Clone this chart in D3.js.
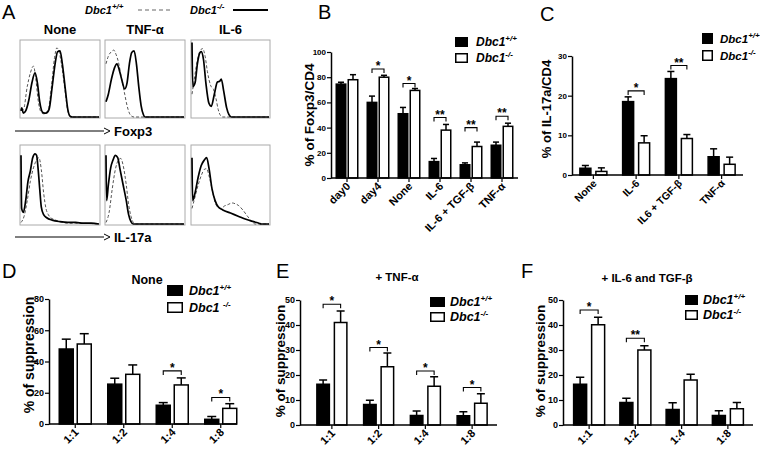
<!DOCTYPE html>
<html><head><meta charset="utf-8">
<script src="https://cdn.jsdelivr.net/npm/d3@7"></script>
<style>body{margin:0;background:#fff}svg{display:block}text{font-family:"Liberation Sans",Arial,sans-serif}</style>
</head><body><svg id="c" width="760" height="452"></svg>
<script>
// ---------- Panel A: histogram curves (relative x, relative count) ----------
const histTitles = ["None", "TNF-α", "IL-6"];
const foxp3WT = [
  [[0,0.1],[0.03,0.1],[0.08,0.4],[0.12,0.58],[0.16,0.67],[0.19,0.5],[0.22,0.22],[0.26,0.06],[0.3,0.04],[0.35,0.1],[0.39,0.4],[0.43,0.78],[0.46,0.91],[0.49,0.85],[0.53,0.62],[0.57,0.3],[0.6,0.08],[0.64,0],[1,0]],
  [[0,0.7],[0.03,0.8],[0.07,0.86],[0.1,0.88],[0.13,0.82],[0.16,0.72],[0.2,0.5],[0.24,0.3],[0.27,0.15],[0.3,0.05],[0.33,0.01],[0.36,0],[1,0]],
  [[0,0.3],[0.03,0.5],[0.07,0.75],[0.11,0.88],[0.14,0.9],[0.17,0.8],[0.2,0.6],[0.24,0.42],[0.28,0.36],[0.31,0.25],[0.34,0.1],[0.37,0.02],[0.4,0],[1,0]]
];
const foxp3KO = [
  [[0,0.08],[0.01,0.12],[0.03,0.05],[0.06,0.08],[0.1,0.22],[0.14,0.45],[0.18,0.58],[0.21,0.45],[0.24,0.2],[0.28,0.06],[0.32,0.05],[0.36,0.1],[0.4,0.4],[0.44,0.72],[0.47,0.86],[0.5,0.87],[0.53,0.7],[0.57,0.35],[0.6,0.1],[0.63,0.01],[0.66,0],[1,0]],
  [[0,0.2],[0.03,0.3],[0.07,0.5],[0.11,0.65],[0.14,0.7],[0.17,0.62],[0.2,0.5],[0.24,0.37],[0.27,0.45],[0.3,0.7],[0.33,0.85],[0.36,0.87],[0.39,0.7],[0.42,0.4],[0.45,0.15],[0.48,0.03],[0.5,0],[1,0]],
  [[0,0.98],[0.01,0.4],[0.04,0.45],[0.07,0.7],[0.1,0.84],[0.12,0.86],[0.15,0.75],[0.18,0.45],[0.22,0.18],[0.25,0.14],[0.29,0.3],[0.33,0.46],[0.36,0.47],[0.38,0.5],[0.41,0.35],[0.45,0.12],[0.48,0.03],[0.51,0],[1,0]]
];
const il17WT = [
  [[0,0.02],[0.04,0.1],[0.08,0.3],[0.12,0.55],[0.16,0.72],[0.2,0.82],[0.23,0.85],[0.26,0.7],[0.29,0.4],[0.32,0.2],[0.35,0.12],[0.38,0.08],[0.42,0.06],[0.5,0.03],[0.6,0.01],[0.7,0.01],[1,0]],
  [[0,0.02],[0.04,0.15],[0.08,0.45],[0.12,0.7],[0.16,0.82],[0.19,0.84],[0.22,0.75],[0.26,0.5],[0.29,0.25],[0.32,0.1],[0.35,0.02],[0.38,0],[1,0]],
  [[0,0.2],[0.04,0.35],[0.08,0.5],[0.12,0.62],[0.16,0.7],[0.19,0.71],[0.22,0.62],[0.26,0.45],[0.3,0.28],[0.34,0.21],[0.38,0.2],[0.42,0.23],[0.47,0.25],[0.52,0.27],[0.56,0.26],[0.6,0.24],[0.66,0.18],[0.72,0.1],[0.78,0.03],[0.82,0],[1,0]]
];
const il17KO = [
  [[0,0.88],[0.008,0.2],[0.03,0.15],[0.06,0.3],[0.09,0.55],[0.12,0.68],[0.15,0.85],[0.18,0.9],[0.2,0.88],[0.22,0.7],[0.24,0.45],[0.26,0.22],[0.29,0.12],[0.33,0.08],[0.4,0.05],[0.5,0.03],[0.6,0.02],[0.7,0.02],[0.8,0.01],[0.9,0.01],[1,0]],
  [[0,0.88],[0.008,0.3],[0.03,0.5],[0.06,0.72],[0.09,0.82],[0.12,0.88],[0.15,0.85],[0.18,0.7],[0.22,0.5],[0.26,0.3],[0.29,0.12],[0.32,0.03],[0.35,0],[1,0]],
  [[0,0.85],[0.008,0.3],[0.04,0.4],[0.08,0.6],[0.12,0.75],[0.16,0.82],[0.19,0.85],[0.22,0.72],[0.26,0.45],[0.3,0.3],[0.34,0.22],[0.4,0.18],[0.5,0.14],[0.6,0.1],[0.7,0.06],[0.8,0.03],[0.87,0.01],[0.9,0],[1,0]]
];

// ---------- Panel B ----------
const bCategories = ["day0", "day4", "None", "IL-6", "IL-6 + TGF-β", "TNF-α"];
const bWT = [74.5, 60, 51, 13, 10.5, 26];
const bWTErr = [1.5, 5, 5, 2.5, 1.5, 2.5];
const bKO = [78, 80, 69.5, 38, 25, 41];
const bKOErr = [4, 1.5, 1.5, 4.5, 3.5, 2.5];
const bSig = ["", "*", "*", "**", "**", "**"];
const bSigLevel = [0, 86.5, 75, 48, 40, 49];
const bTicks = [0, 20, 40, 60, 80, 100];

// ---------- Panel C ----------
const cCategories = ["None", "IL-6", "IL6 + TGF-β", "TNF-α"];
const cWT = [1.7, 18.5, 24.3, 4.6];
const cWTErr = [0.7, 1.2, 1.8, 2.0];
const cKO = [0.9, 8.1, 9.2, 2.7];
const cKOErr = [0.9, 1.8, 1.0, 1.8];
const cSig = ["", "*", "**", ""];
const cSigLevel = [0, 21.2, 27.6, 0];
const cTicks = [0, 10, 20, 30];

// ---------- Panels D, E, F ----------
const ratioCategories = ["1:1", "1:2", "1:4", "1:8"];
const dWT = [48, 25.5, 12, 3];
const dWTErr = [6.3, 3.8, 1.7, 1.8];
const dKO = [51.2, 31.8, 25, 10];
const dKOErr = [6.6, 6.0, 4.5, 3];
const dSig = ["", "", "*", "*"];
const dSigLevel = [0, 0, 34, 17];
const dTicks = [0, 20, 40, 60, 80];

const eWT = [16.3, 8.2, 3.8, 3.7];
const eWTErr = [1.7, 1.7, 1.8, 1.6];
const eKO = [41, 23.3, 15.5, 8.7];
const eKOErr = [4.6, 5.5, 3.8, 3.8];
const eSig = ["*", "*", "*", "*"];
const eSigLevel = [48.3, 31, 21.6, 15];
const eTicks = [0, 10, 20, 30, 40, 50];

const fWT = [16.3, 9, 6.2, 3.8];
const fWTErr = [2.8, 1.7, 2.7, 1.9];
const fKO = [40.1, 30, 18, 6.5];
const fKOErr = [3, 1.7, 2.3, 2.5];
const fSig = ["*", "**", "", ""];
const fSigLevel = [46, 34.7, 0, 0];
const fTicks = [0, 10, 20, 30, 40, 50];

const svg = d3.select("#c");

function panelLetter(t, x, y) {
  svg.append("text").attr("x", x).attr("y", y).attr("font-size", 20).text(t);
}
function dbcLabel(sel, sup, space) {
  sel.append("tspan").text("Dbc1" + (space ? " " : ""));
  sel.append("tspan").attr("dy", -5).attr("font-size", 8).text(sup);
}

// ---------- Panel A ----------
panelLetter("A", 2, 19);
{
  const lg = svg.append("g").attr("font-weight", "bold").attr("font-style", "italic").attr("font-size", 11);
  const t1 = lg.append("text").attr("x", 85).attr("y", 14); dbcLabel(t1, "+/+");
  lg.append("line").attr("x1", 138).attr("x2", 171).attr("y1", 10).attr("y2", 10)
    .attr("stroke", "#999").attr("stroke-width", 1.6).attr("stroke-dasharray", "4,3");
  const t2 = lg.append("text").attr("x", 190).attr("y", 14); dbcLabel(t2, "-/-");
  lg.append("line").attr("x1", 233).attr("x2", 268).attr("y1", 10).attr("y2", 10)
    .attr("stroke", "#000").attr("stroke-width", 2);
}
const boxX = [[20, 100], [105, 185], [191, 270]];
const rows = [{y0: 40, y1: 118, wt: foxp3WT, ko: foxp3KO, label: "Foxp3", ay: 131},
              {y0: 145, y1: 225, wt: il17WT, ko: il17KO, label: "IL-17a", ay: 237}];
histTitles.forEach((t, i) => {
  svg.append("text").attr("x", (boxX[i][0] + boxX[i][1]) / 2).attr("y", 34)
    .attr("text-anchor", "middle").attr("font-weight", "bold").attr("font-size", 13)
    .attr("font-family", "Lato, 'Liberation Sans', sans-serif").text(t);
});
rows.forEach(r => {
  boxX.forEach((bx, i) => {
    const xs = d3.scaleLinear().domain([0, 1]).range([bx[0] + 1, bx[1] - 1]);
    const ys = d3.scaleLinear().domain([0, 1]).range([r.y1 - 1, r.y0 + 1]);
    svg.append("rect").attr("x", bx[0]).attr("y", r.y0).attr("width", bx[1] - bx[0]).attr("height", r.y1 - r.y0)
      .attr("fill", "none").attr("stroke", "#aaa").attr("stroke-width", 1);
    const line = d3.line().x(d => xs(d[0])).y(d => ys(d[1])).curve(d3.curveMonotoneX);
    svg.append("path").attr("d", line(r.wt[i])).attr("fill", "none").attr("stroke", "#555")
      .attr("stroke-width", 1).attr("stroke-dasharray", "3,2");
    svg.append("path").attr("d", line(r.ko[i])).attr("fill", "none").attr("stroke", "#000")
      .attr("stroke-width", 1.7);
  });
  svg.append("line").attr("x1", 15).attr("x2", 104).attr("y1", r.ay).attr("y2", r.ay)
    .attr("stroke", "#000").attr("stroke-width", 1);
  svg.append("path").attr("d", `M104,${r.ay - 3}L110,${r.ay}L104,${r.ay + 3}`).attr("fill", "none").attr("stroke", "#000");
  svg.append("text").attr("x", 114).attr("y", r.ay + 5).attr("font-weight", "bold").attr("font-size", 13)
    .attr("font-family", "Lato, 'Liberation Sans', sans-serif").text(r.label);
});

// ---------- generic bar chart ----------
function barChart(o) {
  const y = d3.scaleLinear().domain([0, o.max]).range([o.yZero, o.yTop]);
  const x = d3.scaleBand().domain(o.cats).range(o.band);
  const cx = c => x(c) + x.bandwidth() / 2;
  const g = svg.append("g");
  const ya = g.append("g").attr("transform", `translate(${o.axisX},0)`)
    .call(d3.axisLeft(y).tickValues(o.ticks).tickSize(4).tickPadding(1).tickSizeOuter(0));
  ya.select(".domain").attr("stroke-width", 1.5);
  ya.selectAll(".tick line").attr("stroke-width", 1.2);
  ya.selectAll(".tick text").attr("font-weight", "bold").attr("font-size", o.tickFont).attr("font-family", "'Liberation Sans', Arial");
  g.append("text").attr("transform", `translate(${o.ylx},${o.yly}) rotate(-90)`).attr("text-anchor", "middle")
    .attr("font-weight", "bold").attr("font-size", o.ylSize).text(o.ylabel);
  const bw = o.barW, gap = o.gap;
  const series = [
    {vals: o.wt, errs: o.wtErr, fill: "#000", off: -gap / 2 - bw},
    {vals: o.ko, errs: o.koErr, fill: "#fff", off: gap / 2}
  ];
  series.forEach(s => {
    o.cats.forEach((c, i) => {
      const bx = cx(c) + s.off;
      const v = s.vals[i], e = s.errs[i];
      const mid = bx + bw / 2;
      g.append("line").attr("x1", mid).attr("x2", mid).attr("y1", y(v)).attr("y2", y(v + e))
        .attr("stroke", "#000").attr("stroke-width", 1.5);
      g.append("line").attr("x1", mid - bw * 0.32).attr("x2", mid + bw * 0.32).attr("y1", y(v + e)).attr("y2", y(v + e))
        .attr("stroke", "#000").attr("stroke-width", 1.5);
      g.append("rect").attr("x", bx).attr("y", y(v)).attr("width", bw).attr("height", y(0) - y(v))
        .attr("fill", s.fill).attr("stroke", "#000").attr("stroke-width", 1.5);
    });
  });
  g.append("line").attr("x1", o.axisX).attr("x2", o.axisEnd).attr("y1", o.yZero).attr("y2", o.yZero)
    .attr("stroke", "#000").attr("stroke-width", 1.5);
  o.cats.forEach(c => {
    g.append("line").attr("x1", cx(c)).attr("x2", cx(c)).attr("y1", o.yZero).attr("y2", o.yZero + 4)
      .attr("stroke", "#000").attr("stroke-width", 1.2);
    g.append("text").attr("transform", `translate(${cx(c) + 4},${o.yZero + 9}) rotate(-45)`)
      .attr("text-anchor", "end").attr("font-weight", "bold").attr("font-size", o.xlSize).text(c);
  });
  o.cats.forEach((c, i) => {
    if (!o.sig[i]) return;
    const x1 = cx(c) - gap / 2 - bw / 2, x2 = cx(c) + gap / 2 + bw / 2, ly = y(o.sigLevel[i]);
    g.append("path").attr("d", `M${x1},${ly + 4}V${ly}H${x2}V${ly + 4}`).attr("fill", "none")
      .attr("stroke", "#000").attr("stroke-width", 1.1);
    g.append("text").attr("x", (x1 + x2) / 2).attr("y", ly + 1).attr("text-anchor", "middle")
      .attr("font-weight", "bold").attr("font-size", 12).text(o.sig[i]);
  });
  const L = o.legend;
  g.append("rect").attr("x", L.x).attr("y", L.y).attr("width", L.w).attr("height", L.h).attr("fill", "#000");
  g.append("rect").attr("x", L.x + 0.75).attr("y", L.y + L.dy + 0.75).attr("width", L.w - 1.5).attr("height", L.h - 1.5)
    .attr("fill", "#fff").attr("stroke", "#000").attr("stroke-width", 1.5);
  const t1 = g.append("text").attr("x", L.x + L.w + L.tx).attr("y", L.y + L.h - 1)
    .attr("font-weight", "bold").attr("font-style", "italic").attr("font-size", L.fs);
  dbcLabel(t1, "+/+");
  const t2 = g.append("text").attr("x", L.x + L.w + L.tx).attr("y", L.y + L.dy + L.h - 1)
    .attr("font-weight", "bold").attr("font-style", "italic").attr("font-size", L.fs);
  dbcLabel(t2, "-/-", L.space);
  if (o.title) {
    g.append("text").attr("x", o.title.x).attr("y", o.title.y).attr("text-anchor", "middle")
      .attr("font-weight", "bold").attr("font-size", o.title.fs).text(o.title.t);
  }
}

panelLetter("B", 318, 19);
barChart({cats: bCategories, wt: bWT, wtErr: bWTErr, ko: bKO, koErr: bKOErr, sig: bSig, sigLevel: bSigLevel,
  max: 100, ticks: bTicks, axisX: 331, axisEnd: 518, yTop: 52, yZero: 178, band: [331.5, 517.5],
  barW: 9.5, gap: 2.5, tickFont: 8, xlSize: 11, ylabel: "% of Foxp3/CD4", ylx: 314, yly: 115, ylSize: 13.5,
  legend: {x: 455, y: 37, w: 13, h: 10, dy: 16, tx: 8, fs: 12}});

panelLetter("C", 540, 21);
barChart({cats: cCategories, wt: cWT, wtErr: cWTErr, ko: cKO, koErr: cKOErr, sig: cSig, sigLevel: cSigLevel,
  max: 30, ticks: cTicks, axisX: 572, axisEnd: 743, yTop: 56, yZero: 175, band: [572, 743],
  barW: 11, gap: 5, tickFont: 8, xlSize: 10.5, ylabel: "% of IL-17a/CD4", ylx: 551, yly: 109, ylSize: 13,
  legend: {x: 702, y: 33, w: 11, h: 11, dy: 17, tx: 7, fs: 11.5}});

panelLetter("D", 2, 278);
barChart({cats: ratioCategories, wt: dWT, wtErr: dWTErr, ko: dKO, koErr: dKOErr, sig: dSig, sigLevel: dSigLevel,
  max: 80, ticks: dTicks, axisX: 49, axisEnd: 237, yTop: 299, yZero: 424, band: [51, 245],
  barW: 14, gap: 4, tickFont: 9, xlSize: 11, ylabel: "% of suppression", ylx: 34, yly: 355, ylSize: 14,
  legend: {x: 167, y: 285, w: 16, h: 11, dy: 17, tx: 6, fs: 12.5, space: true},
  title: {t: "None", x: 147, y: 284, fs: 12.5}});

panelLetter("E", 276, 278);
barChart({cats: ratioCategories, wt: eWT, wtErr: eWTErr, ko: eKO, koErr: eKOErr, sig: eSig, sigLevel: eSigLevel,
  max: 50, ticks: eTicks, axisX: 300, axisEnd: 497, yTop: 300, yZero: 425, band: [308.5, 495.5],
  barW: 12.5, gap: 5, tickFont: 9, xlSize: 11, ylabel: "% of suppression", ylx: 285, yly: 361, ylSize: 13.5,
  legend: {x: 430, y: 297, w: 15, h: 10, dy: 15, tx: 5, fs: 12.5},
  title: {t: "+ TNF-α", x: 397, y: 281, fs: 11.5}});

panelLetter("F", 521, 278);
barChart({cats: ratioCategories, wt: fWT, wtErr: fWTErr, ko: fKO, koErr: fKOErr, sig: fSig, sigLevel: fSigLevel,
  max: 50, ticks: fTicks, axisX: 563, axisEnd: 753, yTop: 300, yZero: 425, band: [566, 751],
  barW: 13, gap: 5, tickFont: 9, xlSize: 11, ylabel: "% of suppression", ylx: 545, yly: 361, ylSize: 13.5,
  legend: {x: 685, y: 295, w: 13, h: 10, dy: 15, tx: 5, fs: 12.5},
  title: {t: "+ IL-6 and TGF-β", x: 647, y: 282, fs: 11.5}});
</script></body></html>
